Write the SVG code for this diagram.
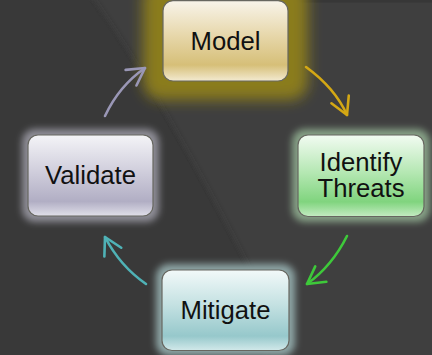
<svg xmlns="http://www.w3.org/2000/svg" width="432" height="355" viewBox="0 0 432 355">
  <defs>
    <style>
      .label { font-family: "Liberation Sans", Arial, sans-serif; font-size: 25.7px; fill: #111111; text-anchor: middle; }
      .box { stroke: #676760; stroke-width: 1.2; }
      .conn { fill: none; stroke-width: 2.6; stroke-linecap: round; }
    </style>
    <filter id="glowBig" x="-50%" y="-50%" width="200%" height="200%">
      <feGaussianBlur stdDeviation="7"/>
    </filter>
    <filter id="glowSmall" x="-50%" y="-50%" width="200%" height="200%">
      <feGaussianBlur stdDeviation="3.5"/>
    </filter>
    <filter id="edgeShade" x="-20%" y="-20%" width="140%" height="140%">
      <feGaussianBlur stdDeviation="4"/>
    </filter>
    <clipPath id="rightPane">
      <path d="M88,0 Q150,85 245,270 L262,355 L432,355 L432,0 Z"/>
    </clipPath>
    <linearGradient id="gModel" x1="0" y1="0" x2="0" y2="1">
      <stop offset="0" stop-color="#f8f4ea"/>
      <stop offset="0.45" stop-color="#e6d6a8"/>
      <stop offset="0.8" stop-color="#d6bf78"/>
      <stop offset="1" stop-color="#f3ead0"/>
    </linearGradient>
    <linearGradient id="gIdentify" x1="0" y1="0" x2="0" y2="1">
      <stop offset="0" stop-color="#f2fbf2"/>
      <stop offset="0.45" stop-color="#b6e8b4"/>
      <stop offset="0.82" stop-color="#80d47e"/>
      <stop offset="1" stop-color="#c4ecc2"/>
    </linearGradient>
    <linearGradient id="gValidate" x1="0" y1="0" x2="0" y2="1">
      <stop offset="0" stop-color="#f4f4f7"/>
      <stop offset="0.45" stop-color="#d0cedc"/>
      <stop offset="0.82" stop-color="#b1aec4"/>
      <stop offset="1" stop-color="#e0dfe9"/>
    </linearGradient>
    <linearGradient id="gMitigate" x1="0" y1="0" x2="0" y2="1">
      <stop offset="0" stop-color="#f2f9f9"/>
      <stop offset="0.45" stop-color="#c2e0e1"/>
      <stop offset="0.82" stop-color="#96c8cb"/>
      <stop offset="1" stop-color="#d2e9ea"/>
    </linearGradient>
    <marker id="headGold" markerUnits="userSpaceOnUse" markerWidth="24" markerHeight="24" viewBox="-20 -12 24 24" refX="0" refY="0" orient="auto">
      <path d="M-17,-9.5 L0,0 L-17,9.5" fill="none" stroke="#d4a814" stroke-width="2.6" stroke-linecap="round" stroke-linejoin="round"/>
    </marker>
    <marker id="headGreen" markerUnits="userSpaceOnUse" markerWidth="24" markerHeight="24" viewBox="-20 -12 24 24" refX="0" refY="0" orient="auto">
      <path d="M-17,-9.5 L0,0 L-17,9.5" fill="none" stroke="#3ec93a" stroke-width="2.6" stroke-linecap="round" stroke-linejoin="round"/>
    </marker>
    <marker id="headTeal" markerUnits="userSpaceOnUse" markerWidth="24" markerHeight="24" viewBox="-20 -12 24 24" refX="0" refY="0" orient="auto">
      <path d="M-17,-9.5 L0,0 L-17,9.5" fill="none" stroke="#4fb2b6" stroke-width="2.6" stroke-linecap="round" stroke-linejoin="round"/>
    </marker>
    <marker id="headLilac" markerUnits="userSpaceOnUse" markerWidth="24" markerHeight="24" viewBox="-20 -12 24 24" refX="0" refY="0" orient="auto">
      <path d="M-17,-9.5 L0,0 L-17,9.5" fill="none" stroke="#9a97b6" stroke-width="2.6" stroke-linecap="round" stroke-linejoin="round"/>
    </marker>
  </defs>

  <!-- backdrop: dark panel with a curved fold -->
  <g id="backdrop">
    <rect x="0" y="0" width="432" height="355" fill="#393939"/>
    <path d="M88,0 Q150,85 245,270 L262,355 L432,355 L432,0 Z" fill="#3f3f3f"/>
    <g clip-path="url(#rightPane)">
      <path d="M84,0 Q146,85 241,270 L258,355" fill="none" stroke="#303030" stroke-width="10" filter="url(#edgeShade)"/>
    </g>
    <rect x="290" y="0" width="142" height="2.5" fill="#373737"/>
  </g>

  <!-- node halos -->
  <g id="halos">
    <rect x="143" y="-20" width="165" height="120" rx="18" fill="#8a7c1e" filter="url(#glowBig)"/>
    <rect x="292" y="129" width="138" height="93" rx="13" fill="#86a086" filter="url(#glowSmall)"/>
    <rect x="22" y="129" width="137" height="93" rx="13" fill="#8e8d96" filter="url(#glowSmall)"/>
    <rect x="156" y="264" width="139" height="92" rx="13" fill="#8ea6a6" filter="url(#glowSmall)"/>
  </g>

  <!-- connectors -->
  <g id="connectors">
    <path class="conn" d="M306,67 Q335,88 347,115" stroke="#d4a814" marker-end="url(#headGold)"/>
    <path class="conn" d="M347,236 Q332,266 307,284" stroke="#3ec93a" marker-end="url(#headGreen)"/>
    <path class="conn" d="M146,284 Q120,266 105,237" stroke="#4fb2b6" marker-end="url(#headTeal)"/>
    <path class="conn" d="M105,116 Q119,86 145,68" stroke="#9a97b6" marker-end="url(#headLilac)"/>
  </g>

  <g id="node-model">
    <rect class="box" x="163" y="0.7" width="125" height="80.3" rx="10" fill="url(#gModel)"/>
    <text class="label" x="225.5" y="49.5">Model</text>
  </g>

  <g id="node-identify">
    <rect class="box" x="298" y="135" width="126" height="81.5" rx="10" fill="url(#gIdentify)"/>
    <text class="label" x="361" y="170.7">Identify</text>
    <text class="label" x="361" y="197.3">Threats</text>
  </g>

  <g id="node-validate">
    <rect class="box" x="28" y="135" width="125" height="81" rx="10" fill="url(#gValidate)"/>
    <text class="label" x="90.5" y="184.3">Validate</text>
  </g>

  <g id="node-mitigate">
    <rect class="box" x="162" y="270" width="127" height="80.5" rx="10" fill="url(#gMitigate)"/>
    <text class="label" x="225.5" y="319.3">Mitigate</text>
  </g>
</svg>
